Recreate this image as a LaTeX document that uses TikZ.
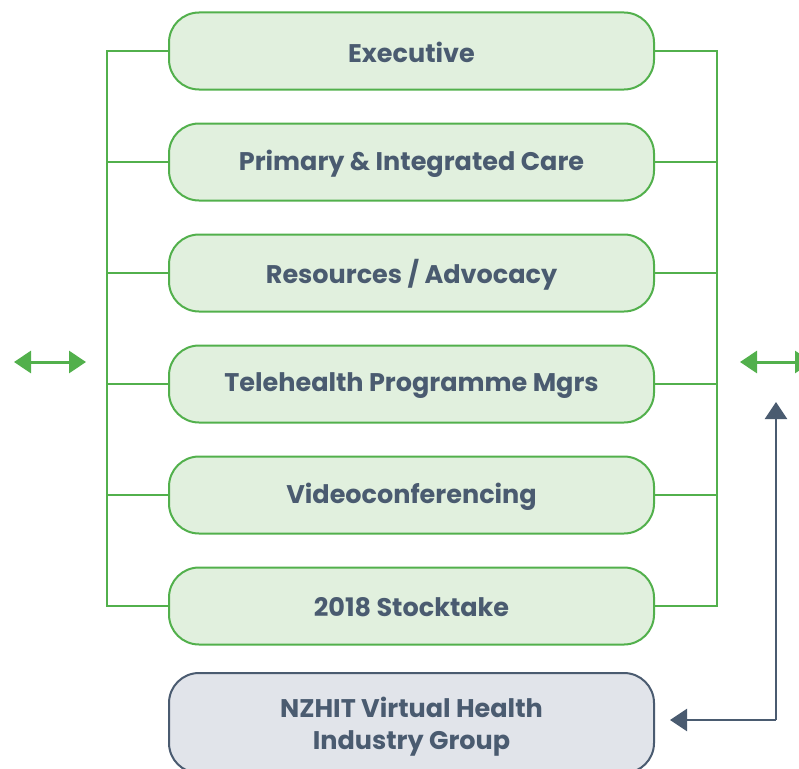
\documentclass[tikz,border=0pt]{standalone}
\usepackage{fontspec}
\setmainfont{Poppins}
\usetikzlibrary{arrows.meta}
\definecolor{gline}{HTML}{52B04C}
\definecolor{gfill}{HTML}{E1F0DE}
\definecolor{slate}{HTML}{4A5B70}
\definecolor{sfill}{HTML}{E1E4EA}
\tikzset{
  box/.style={draw=gline, fill=gfill, line width=2pt, rounded corners=30pt,
    minimum width=485pt, minimum height=77pt, inner sep=0pt},
  lbl/.style={font=\fontsize{25.5}{32}\selectfont\bfseries, text=slate, align=center, inner sep=0pt},
  graybox/.style={box, draw=slate, fill=sfill},
  link/.style={draw=gline, line width=2pt},
  garrow/.style={draw=gline, line width=3pt, {Triangle[length=17pt,width=22pt]}-{Triangle[length=17pt,width=22pt]}},
  sarrow/.style={draw=slate, line width=2.5pt, -{Triangle[length=17pt,width=22pt]}}
}
\begin{document}
\begin{tikzpicture}[x=1pt,y=-1pt]
\useasboundingbox (0,0) rectangle (799,768);
\clip (0,0) rectangle (799,768);
\node[box] (b1) at (411.5,51) {};
\node[box] (b2) at (411.5,162) {};
\node[box] (b3) at (411.5,273) {};
\node[box] (b4) at (411.5,384) {};
\node[box] (b5) at (411.5,495) {};
\node[box] (b6) at (411.5,606) {};
\node[lbl] (t1) at (411.5,52) {Executive};
\node[lbl] (t2) at (411.5,164) {Primary \& Integrated Care};
\node[lbl] (t3) at (411.5,275) {Resources / Advocacy};
\node[lbl] (t4) at (411.5,386) {Telehealth Programme Mgrs};
\node[lbl] (t5) at (411.5,497) {Videoconferencing};
\node[lbl] (t6) at (411.5,607) {2018 Stocktake};
\node[graybox, minimum height=100pt] (b7) at (411.5,723) {};
\node[lbl] (t7) at (411.5,727) {NZHIT Virtual Health\\Industry Group};
\coordinate (L1) at (107,51);
\coordinate (L6) at (107,606);
\coordinate (R1) at (717,51);
\coordinate (R6) at (717,606);
\draw[link] (b1.west) -- (L1) -- (L6) -- (b6.west);
\foreach \i in {2,3,4,5} \draw[link] (b\i.west) -- (107,0 |- b\i.west);
\draw[link] (b1.east) -- (R1) -- (R6) -- (b6.east);
\foreach \i in {2,3,4,5} \draw[link] (b\i.east) -- (717,0 |- b\i.east);
\coordinate (la) at (14,362);
\coordinate (lb) at (86,362);
\coordinate (ra) at (740,362);
\coordinate (rb) at (812,362);
\draw[garrow] (la) -- (lb);
\draw[garrow] (ra) -- (rb);
\coordinate (c1) at (776,720);
\coordinate (up) at (776,402);
\coordinate (lf) at (670,720);
\draw[sarrow] (c1) -- (up);
\draw[sarrow] (c1) -- (lf);
\end{tikzpicture}
\end{document}
